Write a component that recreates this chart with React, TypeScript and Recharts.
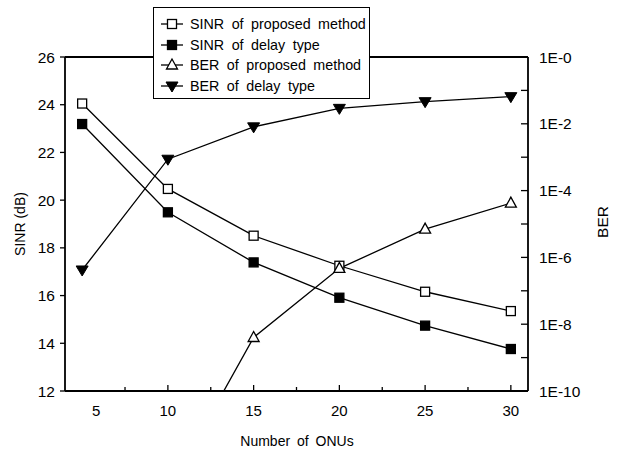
import React from "react";
import {
  LineChart,
  Line,
  XAxis,
  YAxis,
  Legend,
  ReferenceLine,
  Label,
} from "recharts";

const FONT = "'Liberation Sans', Arial, Helvetica, sans-serif";

// values
const onus = [5, 10, 15, 20, 25, 30];
const sinrProposed = [24.05, 20.47, 18.51, 17.25, 16.16, 15.35];
const sinrDelay = [23.19, 19.49, 17.39, 15.91, 14.74, 13.76];
const berProposed = [null, 1e-13, 4e-9, 4.7e-7, 7e-6, 4.2e-5];
const berDelay = [4.2e-7, 8.7e-4, 8.1e-3, 2.9e-2, 4.6e-2, 6.5e-2];

const xTicks = [5, 7.5, 10, 12.5, 15, 17.5, 20, 22.5, 25, 27.5, 30];
const sinrTicks = [12, 14, 16, 18, 20, 22, 24, 26];
const berTicks = [1e-10, 1e-9, 1e-8, 1e-7, 1e-6, 1e-5, 1e-4, 1e-3, 1e-2, 1e-1, 1];

const seriesNames = [
  "SINR of proposed method",
  "SINR of delay type",
  "BER of proposed method",
  "BER of delay type",
];

const data = onus.map((n, i) => ({
  n,
  sinrProposed: sinrProposed[i],
  sinrDelay: sinrDelay[i],
  berProposed: berProposed[i],
  berDelay: berDelay[i],
}));

type Shape = "square" | "squareFill" | "tri" | "triDownFill";

function Marker({ shape, cx, cy }: { shape: Shape; cx: number; cy: number }) {
  if (shape === "square" || shape === "squareFill") {
    const s = 9;
    return (
      <rect
        x={cx - s / 2}
        y={cy - s / 2}
        width={s}
        height={s}
        fill={shape === "squareFill" ? "#000" : "#fff"}
        stroke="#000"
        strokeWidth={1.3}
      />
    );
  }
  if (shape === "tri") {
    const h = 10;
    const w = 11;
    return (
      <polygon
        points={`${cx},${cy - h * 0.6} ${cx - w / 2},${cy + h * 0.4} ${cx + w / 2},${cy + h * 0.4}`}
        fill="#fff"
        stroke="#000"
        strokeWidth={1.3}
      />
    );
  }
  const h = 10;
  const w = 12;
  return (
    <polygon
      points={`${cx},${cy + h * 0.6} ${cx - w / 2},${cy - h * 0.4} ${cx + w / 2},${cy - h * 0.4}`}
      fill="#000"
      stroke="#000"
      strokeWidth={1}
    />
  );
}

const dotFor = (shape: Shape) => (props: any) => {
  const { cx, cy, index } = props;
  if (cx == null || cy == null) return <g key={`d${index}`} />;
  return (
    <g key={`d${index}`}>
      <Marker shape={shape} cx={cx} cy={cy} />
    </g>
  );
};

const shapes: Shape[] = ["square", "squareFill", "tri", "triDownFill"];

function LegendBox() {
  return (
    <div
      style={{
        border: "1px solid #000",
        background: "#fff",
        fontFamily: FONT,
        fontSize: 14.3,
        wordSpacing: 3.5,
        color: "#000",
        padding: "6px 0 0 6px",
        boxSizing: "border-box",
        width: "100%",
        height: "100%",
        whiteSpace: "nowrap",
      }}
    >
      {seriesNames.map((name, i) => (
        <div key={name} style={{ display: "flex", alignItems: "center", height: 20.5 }}>
          <svg width={24} height={16} style={{ marginRight: 6 }}>
            <line x1={1} y1={8} x2={23} y2={8} stroke="#000" strokeWidth={1.3} />
            <Marker shape={shapes[i]} cx={12} cy={8} />
          </svg>
          <span>{name}</span>
        </div>
      ))}
    </div>
  );
}

function XTick(props: any) {
  const { x, y, payload } = props;
  const v = payload.value;
  const major = Number.isInteger(v);
  return (
    <g>
      {v !== 5 && (
        <line x1={x} y1={y} x2={x} y2={y - (major ? 6 : 4)} stroke="#000" strokeWidth={1.3} />
      )}
      {major && (
        <text
          x={v === 5 ? x + 14 : x}
          y={y + 25}
          textAnchor="middle"
          fontFamily={FONT}
          fontSize={15}
          fill="#000"
        >
          {v}
        </text>
      )}
    </g>
  );
}

function BerTick(props: any) {
  const { x, y, payload } = props;
  const exp = Math.round(Math.log10(payload.value));
  const labelled = exp % 2 === 0;
  return (
    <g>
      <line x1={x} y1={y} x2={x - 7} y2={y} stroke="#000" strokeWidth={1.3} />
      {labelled && (
        <text
          x={x + 11}
          y={y}
          dy="0.36em"
          textAnchor="start"
          fontFamily={FONT}
          fontSize={15.5}
          fill="#000"
        >
          {`1E-${-exp}`}
        </text>
      )}
    </g>
  );
}

export default function App() {
  return (
    <div style={{ position: "absolute", left: 0, top: 0, width: 621, height: 450, background: "#fff" }}>
      <LineChart
        width={621}
        height={450}
        data={data}
        margin={{ top: 57, right: 23, bottom: 19, left: 15 }}
      >
        <XAxis
          dataKey="n"
          type="number"
          domain={[4, 31]}
          ticks={xTicks}
          interval={0}
          height={40}
          tickSize={0}
          tickMargin={0}
          tick={<XTick />}
          axisLine={{ stroke: "#000", strokeWidth: 1.8 }}
        >
          <Label
            content={() => (
              <text x={297} y={446} textAnchor="middle" fontFamily={FONT} fontSize={14} fill="#000" wordSpacing={3}>
                Number of ONUs
              </text>
            )}
          />
        </XAxis>
        <YAxis
          yAxisId="left"
          domain={[12, 26]}
          ticks={sinrTicks}
          interval={0}
          width={50}
          tickSize={5}
          tickMargin={5}
          tick={{ fill: "#000", fontSize: 15.5, fontFamily: FONT }}
          tickLine={{ stroke: "#000", strokeWidth: 1.3 }}
          axisLine={{ stroke: "#000", strokeWidth: 1.8 }}
        >
          <Label
            content={() => (
              <text
                x={25}
                y={224}
                transform="rotate(-90 25 224)"
                textAnchor="middle"
                fontFamily={FONT}
                fontSize={14}
                fill="#000"
              >
                SINR (dB)
              </text>
            )}
          />
        </YAxis>
        <YAxis
          yAxisId="right"
          orientation="right"
          scale="log"
          domain={[1e-10, 1]}
          allowDataOverflow
          ticks={berTicks}
          interval={0}
          width={70}
          tickSize={0}
          tickMargin={0}
          tick={<BerTick />}
          axisLine={{ stroke: "#000", strokeWidth: 1.8 }}
        >
          <Label
            content={() => (
              <text
                x={608}
                y={222}
                transform="rotate(-90 608 222)"
                textAnchor="middle"
                fontFamily={FONT}
                fontSize={15.5}
                fill="#000"
              >
                BER
              </text>
            )}
          />
        </YAxis>
        <ReferenceLine yAxisId="left" y={26} stroke="#000" strokeWidth={1.8} />
        <Line
          yAxisId="left"
          dataKey="sinrProposed"
          name={seriesNames[0]}
          stroke="#000"
          strokeWidth={1.3}
          dot={dotFor("square")}
          isAnimationActive={false}
        />
        <Line
          yAxisId="left"
          dataKey="sinrDelay"
          name={seriesNames[1]}
          stroke="#000"
          strokeWidth={1.3}
          dot={dotFor("squareFill")}
          isAnimationActive={false}
        />
        <Line
          yAxisId="right"
          dataKey="berProposed"
          name={seriesNames[2]}
          stroke="#000"
          strokeWidth={1.3}
          dot={dotFor("tri")}
          isAnimationActive={false}
        />
        <Line
          yAxisId="right"
          dataKey="berDelay"
          name={seriesNames[3]}
          stroke="#000"
          strokeWidth={1.3}
          dot={dotFor("triDownFill")}
          isAnimationActive={false}
        />
        <Legend
          layout="horizontal"
          verticalAlign="middle"
          align="center"
          content={() => <LegendBox />}
          wrapperStyle={{ left: 153, top: 7, width: 217, height: 92 }}
        />
      </LineChart>
    </div>
  );
}
